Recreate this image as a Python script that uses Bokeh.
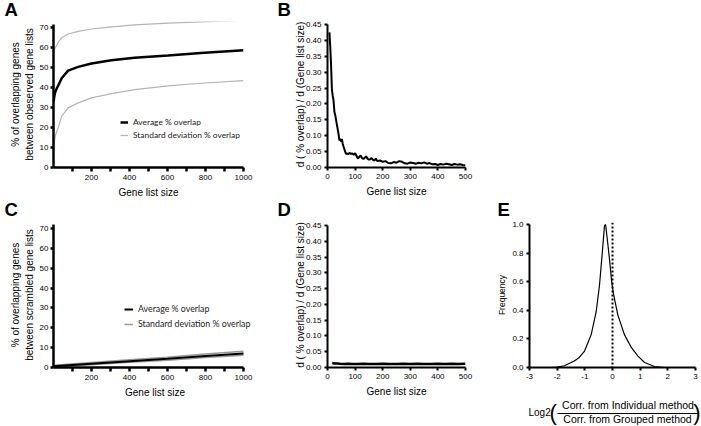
from bokeh.plotting import figure
from bokeh.models import (Range1d, FixedTicker, Legend, LegendItem, Label,
                          Span, Arrow, NumeralTickFormatter)
from bokeh.layouts import row, column
from bokeh.embed import file_html
from bokeh.resources import INLINE

# ---------------- data ----------------
# Panel A: observed gene lists
a_x = [1, 5, 10, 17, 25, 43, 77, 130, 200, 305, 427, 602, 776, 1000]
a_avg = [33, 36, 38, 39.5, 41, 44.6, 48.4, 50.3, 52, 53.6, 54.9, 56, 57.2, 58.6]
a_sd_upper = [57, 59, 60, 61, 62.6, 64.8, 66.7, 68, 69.2, 70.3, 71.3, 72.1, 72.8, 73.6]
a_sd_lower = [9, 13, 16, 18, 20, 25.7, 29.8, 32.3, 34.8, 36.9, 38.9, 40.8, 42.1, 43.4]

# Panel C: scrambled gene lists
c_x = [1, 200, 400, 600, 800, 1000]
c_avg = [0.6, 1.9, 3.2, 4.4, 5.8, 7.1]
c_sd_upper = [1.1, 2.5, 3.9, 5.2, 6.8, 8.2]
c_sd_lower = [0.2, 1.4, 2.6, 3.7, 5.0, 6.2]

# Panel B: derivative, observed
b_x = [7, 10, 13, 16, 19, 22, 25, 28, 31, 34, 37, 40, 43, 46, 49, 52, 55, 58, 61, 64, 67, 70,
       75, 80, 85, 90, 95, 100, 105, 110, 115, 120, 125, 130, 135, 140, 145, 150, 155, 160,
       165, 170, 175, 180, 190, 200, 210, 220, 230, 240, 250, 260, 270, 280, 290, 300, 310,
       320, 330, 340, 350, 360, 370, 380, 390, 400, 410, 420, 430, 440, 450, 460, 470, 480,
       490, 500]
b_y = [0.425, 0.38, 0.32, 0.245, 0.225, 0.21, 0.175, 0.165, 0.15, 0.135, 0.12, 0.105, 0.085,
       0.09, 0.082, 0.09, 0.075, 0.066, 0.058, 0.05, 0.043, 0.044, 0.042, 0.046, 0.043, 0.044,
       0.04, 0.045, 0.037, 0.028, 0.033, 0.038, 0.03, 0.027, 0.031, 0.035, 0.028, 0.025, 0.026,
       0.03, 0.024, 0.022, 0.028, 0.02, 0.022, 0.018, 0.02, 0.014, 0.013, 0.017, 0.015, 0.02,
       0.018, 0.013, 0.012, 0.016, 0.014, 0.012, 0.015, 0.013, 0.016, 0.012, 0.014, 0.01, 0.011,
       0.008, 0.011, 0.009, 0.012, 0.01, 0.008, 0.011, 0.009, 0.01, 0.008, 0.007]

# Panel D: derivative, scrambled
d_x = [17, 25, 35, 45, 60, 75, 90, 110, 130, 150, 175, 200, 225, 250, 275, 300, 325, 350,
       375, 400, 425, 450, 475, 500]
d_y = [0.014, 0.013, 0.013, 0.012, 0.011, 0.012, 0.011, 0.011, 0.012, 0.011, 0.011, 0.012,
       0.011, 0.011, 0.012, 0.011, 0.012, 0.011, 0.011, 0.012, 0.011, 0.012, 0.011, 0.012]

# Panel E: distribution of log2 ratio
e_x = [-2.6, -2.2, -2.0, -1.74, -1.38, -1.2, -1.01, -0.77, -0.59, -0.47, -0.37, -0.29, -0.25,
       -0.19, -0.11, -0.03, 0.03, 0.19, 0.43, 0.68, 0.92, 1.16, 1.52, 1.88, 2.3]
e_y = [0.0, 0.0, 0.003, 0.012, 0.046, 0.07, 0.115, 0.23, 0.39, 0.575, 0.8, 0.99, 1.0, 0.9,
       0.76, 0.6, 0.52, 0.37, 0.23, 0.14, 0.08, 0.035, 0.007, 0.0, 0.0]

# ticks
ac_xticks = [200, 400, 600, 800, 1000]
ac_xminor = [100, 300, 500, 700, 900]
ac_yticks = [0, 10, 20, 30, 40, 50, 60, 70]
bd_xticks = [0, 100, 200, 300, 400, 500]
bd_yticks = [0.0, 0.05, 0.10, 0.15, 0.20, 0.25, 0.30, 0.35, 0.40, 0.45]
e_xticks = [-3, -2, -1, 0, 1, 2, 3]
e_xtick_labels = ["-3", "-2", "-1", "0", "1", "2", "3"]
e_yticks = [0.0, 0.2, 0.4, 0.6, 0.8, 1.0]

FONT = "Liberation Sans"
LEGFONT = "Lato"
W = 700

# ---------------- geometry (page pixels) ----------------
ROW1_TOP, ROW1_BOT = 21, 200
ROW2_TOP, ROW2_BOT = 221, 400
PAGE_BOT = 426
A_PX_PER_UNIT = 142.0 / 70.0          # % axis scale
B_PX_PER_UNIT = 145.0 / 0.45          # derivative axis scale
E_PX_PER_UNIT = 146.0 / 1.0

F1_T, F1_B = 21, 169                  # frames of row 1
F2_T, F2_B = 222, 370                 # frames of row 2

FR_A = (53, 243, F1_T, F1_B, (0, 1000), (0, (F1_B - F1_T) / A_PX_PER_UNIT))
FR_B = (327, 465, F1_T, F1_B, (0, 500), (0, (F1_B - F1_T) / B_PX_PER_UNIT))
FR_C = (53, 256, F2_T, F2_B, (0, 1000 * (256 - 53) / (243 - 53)), (0, (F2_B - F2_T) / A_PX_PER_UNIT))
FR_D = (327, 465, F2_T, F2_B, (0, 500), (0, (F2_B - F2_T) / B_PX_PER_UNIT))
FR_E = (529, 695, F2_T, F2_B, (-3, 3), (0, (F2_B - F2_T) / E_PX_PER_UNIT))

MID_SHIFT = 1.5   # "middle" text renders slightly low; compensate


def make_fig(col_left, width, row_top, row_bot, frame):
    L, R, T, B, xr, yr = frame
    p = figure(width=width, height=row_bot - row_top,
               min_border_left=L - col_left, min_border_right=col_left + width - R,
               min_border_top=T - row_top, min_border_bottom=row_bot - B,
               x_range=Range1d(*xr), y_range=Range1d(*yr),
               output_backend="svg", toolbar_location=None)
    p.grid.visible = False
    p.outline_line_color = None
    p.background_fill_color = "white"
    p.border_fill_color = "white"
    return p


def strip(top, bot):
    h = bot - top
    p = figure(width=W, height=h, x_range=Range1d(0, W), y_range=Range1d(0, h),
               min_border=0, x_axis_location=None, y_axis_location=None,
               output_backend="svg", toolbar_location=None)
    p.grid.visible = False
    p.outline_line_color = None
    p.background_fill_color = "white"
    p.border_fill_color = "white"
    return p


def strip_y(bot, py):
    # page pixel row -> strip data y (strip y axis counts up from its bottom edge)
    return bot - py


def strip_text(p, top, bot, txt, px, py, size, align="left", style="normal", font=FONT):
    # py is the wanted vertical centre of the text in page pixels
    p.add_layout(Label(x=px, y=strip_y(bot, py - MID_SHIFT), text=txt, text_font=font,
                       text_font_style=style, text_font_size=size, text_align=align,
                       text_baseline="middle", text_color="black"))


def style_axis(ax, lw=2, tick=3):
    ax.axis_line_width = lw
    ax.axis_line_color = "black"
    ax.major_tick_line_width = lw
    ax.major_tick_line_color = "black"
    ax.major_tick_in = 0
    ax.major_tick_out = tick
    ax.minor_tick_line_width = lw
    ax.minor_tick_line_color = "black"
    ax.minor_tick_in = 0
    ax.minor_tick_out = tick
    ax.major_label_text_font = FONT
    ax.major_label_text_font_size = "8px"
    ax.major_label_text_color = "black"
    ax.major_label_standoff = 3
    ax.axis_label_text_font = FONT
    ax.axis_label_text_font_size = "10px"
    ax.axis_label_text_font_style = "normal"
    ax.axis_label_text_color = "black"
    ax.axis_label_standoff = 3


def overlap_panel(row_top, row_bot, frame, xs, avg, up, lo, ylabel, leg_loc, leg_font,
                  glyph_w, spacing, avg_w, sd_color, sd_w):
    p = make_fig(0, 257, row_top, row_bot, frame)
    xax = p.xaxis[0]
    xax.ticker = FixedTicker(ticks=ac_xticks, minor_ticks=ac_xminor)
    xax.bounds = (0, 1000)
    style_axis(xax, lw=2.5, tick=4)
    xax.axis_label = "Gene list size"
    xax.axis_label_standoff = 4
    yax = p.yaxis[0]
    yax.ticker = FixedTicker(ticks=ac_yticks)
    yax.bounds = (0, 71.7)
    style_axis(yax, lw=2.5, tick=3)
    yax.major_label_standoff = 2
    yax.axis_label = ylabel
    yax.axis_label_standoff = 2
    r_up = p.line(xs, up, line_color=sd_color, line_width=sd_w)
    p.line(xs, lo, line_color=sd_color, line_width=sd_w)
    r_avg = p.line(xs, avg, line_color="black", line_width=avg_w)
    leg = Legend(items=[LegendItem(label="Average % overlap", renderers=[r_avg]),
                        LegendItem(label="Standard deviation % overlap", renderers=[r_up])],
                 location=leg_loc, glyph_width=glyph_w, glyph_height=10, label_height=10,
                 label_standoff=5, spacing=spacing, padding=0, margin=0,
                 border_line_color=None, background_fill_alpha=0,
                 label_text_font=LEGFONT, label_text_font_size=leg_font,
                 label_text_color="#222222")
    p.add_layout(leg)
    return p


def deriv_panel(width, row_top, row_bot, frame, xs, ys, lw):
    p = make_fig(257, width, row_top, row_bot, frame)
    xax = p.xaxis[0]
    xax.ticker = FixedTicker(ticks=bd_xticks)
    style_axis(xax, lw=2, tick=3)
    xax.axis_label = "Gene list size"
    xax.axis_label_standoff = 4
    yax = p.yaxis[0]
    yax.ticker = FixedTicker(ticks=bd_yticks)
    yax.bounds = (0, 0.45)
    yax.formatter = NumeralTickFormatter(format="0.00")
    style_axis(yax, lw=2, tick=3)
    yax.axis_label = "d ( % overlap) / d (Gene list size)"
    yax.axis_label_standoff = -3
    p.line(xs, ys, line_color="black", line_width=lw)
    return p


# ---------------- panels ----------------
pA = overlap_panel(ROW1_TOP, ROW1_BOT, FR_A, a_x, a_avg, a_sd_upper, a_sd_lower,
                   "% of overlapping genes\nbetween obeserved gene lists",
                   (67, 27), "8.4px", 8, 3, 2.5, "#b4b4b4", 1.2)
pB = deriv_panel(W - 257, ROW1_TOP, ROW1_BOT, FR_B, b_x, b_y, 2)
pC = overlap_panel(ROW2_TOP, ROW2_BOT, FR_C, c_x, c_avg, c_sd_upper, c_sd_lower,
                   "% of overlapping genes\nbetween scrambled gene lists",
                   (71, 38), "8.8px", 9, 4, 2, "#999999", 1.5)
pD = deriv_panel(223, ROW2_TOP, ROW2_BOT, FR_D, d_x, d_y, 2.5)

pE = make_fig(480, 220, ROW2_TOP, ROW2_BOT, FR_E)
ex = pE.xaxis[0]
ex.ticker = FixedTicker(ticks=e_xticks)
ex.major_label_overrides = dict(zip(e_xticks, e_xtick_labels))
style_axis(ex, lw=2, tick=3)
ey = pE.yaxis[0]
ey.ticker = FixedTicker(ticks=e_yticks)
ey.bounds = (0, 1.0)
ey.formatter = NumeralTickFormatter(format="0.0")
style_axis(ey, lw=2, tick=3)
ey.axis_label = "Frequency"
ey.axis_label_text_font_size = "8.5px"
ey.axis_label_standoff = 2
pE.line(e_x, e_y, line_color="black", line_width=1.2)
pE.add_layout(Span(location=0, dimension="height", line_color="black", line_width=2,
                   line_dash="2 2"))

# ---------------- text strips ----------------
LETTER = "18.5px"
s1 = strip(0, ROW1_TOP)
strip_text(s1, 0, ROW1_TOP, "A", 4, 10.5, LETTER, style="bold")
strip_text(s1, 0, ROW1_TOP, "B", 277, 10.5, LETTER, style="bold")

s2 = strip(ROW1_BOT, ROW2_TOP)
strip_text(s2, ROW1_BOT, ROW2_TOP, "C", 4, 210.5, LETTER, style="bold")
strip_text(s2, ROW1_BOT, ROW2_TOP, "D", 277, 210.5, LETTER, style="bold")
strip_text(s2, ROW1_BOT, ROW2_TOP, "E", 497, 210.5, LETTER, style="bold")

s3 = strip(ROW2_BOT, PAGE_BOT)
strip_text(s3, ROW2_BOT, PAGE_BOT, "Log2", 528, 413, "10px")
strip_text(s3, ROW2_BOT, PAGE_BOT, "(", 549, 413, "22px")
strip_text(s3, ROW2_BOT, PAGE_BOT, ")", 700, 413, "22px", align="right")
strip_text(s3, ROW2_BOT, PAGE_BOT, "Corr. from Individual method", 627.5, 406.2, "10.5px",
           align="center")
strip_text(s3, ROW2_BOT, PAGE_BOT, "Corr. from Grouped method", 627, 419.6, "10.5px",
           align="center")
BAR_Y = strip_y(PAGE_BOT, 413)
s3.add_layout(Arrow(start=None, end=None, x_start=557, y_start=BAR_Y, x_end=697, y_end=BAR_Y,
                    line_color="black", line_width=1))

layout = column(s1, row(pA, pB), s2, row(pC, pD, pE), s3)
open("out.html", "w").write(file_html(layout, INLINE))
